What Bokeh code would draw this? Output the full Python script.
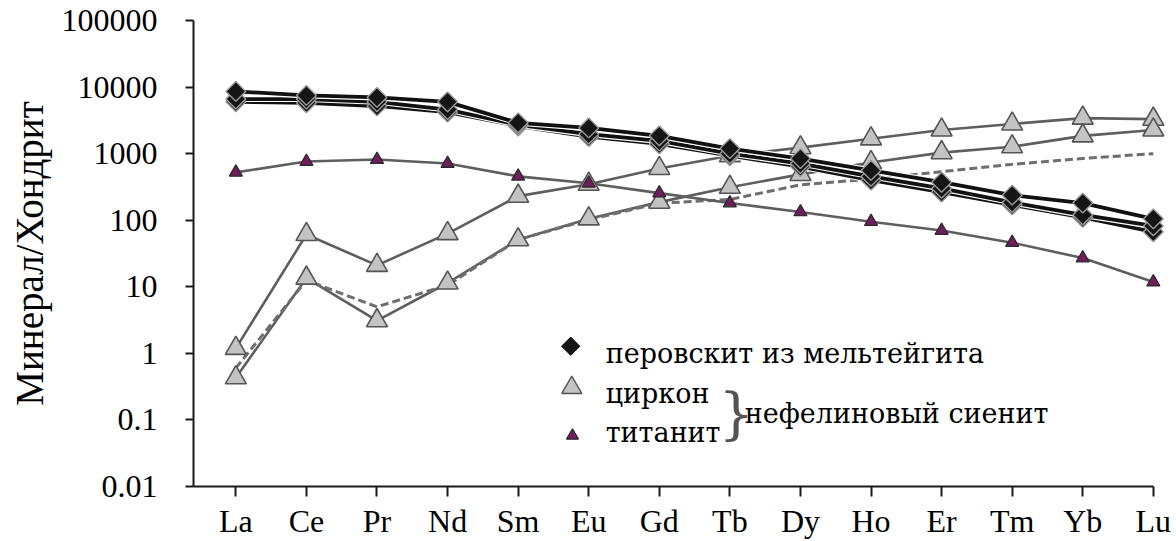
from bokeh.plotting import figure
from bokeh.models import Range1d, FixedTicker
from bokeh.core.properties import value
from bokeh.embed import file_html
from bokeh.resources import INLINE

# Rare-earth elements along the x axis
elements = ["La", "Ce", "Pr", "Nd", "Sm", "Eu", "Gd", "Tb", "Dy", "Ho", "Er", "Tm", "Yb", "Lu"]

# Chondrite-normalised REE contents
perovskite_1 = [8600, 7500, 7000, 6000, 2900, 2430, 1850, 1190, 843, 560, 372, 238, 181, 105]
perovskite_2 = [6600, 6600, 6000, 4600, 2700, 1960, 1550, 1000, 710, 455, 300, 185, 120, 82]
perovskite_3 = [6000, 5800, 5200, 4200, 2600, 1800, 1400, 930, 640, 400, 265, 170, 110, 67]

zircon_1 = [1.19, 61, 21, 63, 230, 347, 600, 930, 1230, 1670, 2270, 2790, 3420, 3300]
zircon_2 = [0.43, 13.5, 3.1, 11.4, 51, 105, 187, 313, 488, 735, 1035, 1270, 1850, 2270]
zircon_avg = [0.6, 12.5, 5.0, 10.6, 51, 102, 180, 205, 340, 415, 535, 690, 845, 1000]

titanite = [523, 761, 815, 711, 456, 359, 255, 181, 133, 95, 70, 46, 27, 11.8]

y_ticks = [0.01, 0.1, 1, 10, 100, 1000, 10000, 100000]
y_tick_labels = ["0.01", "0.1", "1", "10", "100", "1000", "10000", "100000"]

legend_perovskite = "перовскит из мельтейгита"
legend_zircon = "циркон"
legend_titanite = "титанит"
legend_group = "нефелиновый сиенит"

SERIF = "Liberation Serif"
TITLE_FONT = "'Liberation Serif', 'DejaVu Serif', serif"
LEGEND_FONT = "DejaVu Serif"
idx = list(range(len(elements)))

p = figure(
    width=1176, height=541,
    y_axis_type="log",
    x_range=Range1d(-0.6, 13.3),
    y_range=Range1d(0.01, 100000),
    output_backend="svg", toolbar_location=None,
    min_border_left=193, min_border_right=2,
    min_border_top=20, min_border_bottom=49,
)
p.grid.visible = False
p.outline_line_color = None
p.background_fill_color = "white"

# x axis: one tick per element
xa = p.xaxis[0]
xa.ticker = FixedTicker(ticks=idx, minor_ticks=[])
xa.major_label_overrides = {i: el for i, el in enumerate(elements)}
xa.bounds = (-0.6, 13)
xa.axis_line_width = 2
xa.axis_line_color = "#1a1a1a"
xa.major_tick_line_width = 2
xa.major_tick_line_color = "#1a1a1a"
xa.major_tick_out = 10
xa.major_tick_in = 0
xa.minor_tick_line_color = None
xa.major_label_standoff = 6
xa.major_label_text_font = SERIF
xa.major_label_text_font_size = "32px"
xa.major_label_text_color = "black"

# y axis: decades
ya = p.yaxis[0]
ya.ticker = FixedTicker(ticks=y_ticks, minor_ticks=[])
ya.major_label_overrides = {v: s for v, s in zip(y_ticks, y_tick_labels)}
ya.axis_line_width = 2
ya.axis_line_color = "#1a1a1a"
ya.major_tick_line_width = 2
ya.major_tick_line_color = "#1a1a1a"
ya.major_tick_out = 8
ya.major_tick_in = 0
ya.minor_tick_line_color = None
ya.major_label_standoff = 28
ya.major_label_text_font = SERIF
ya.major_label_text_font_size = "32px"
ya.major_label_text_color = "black"
ya.axis_label = "Минерал/Хондрит"
ya.axis_label_text_font = TITLE_FONT
ya.axis_label_text_font_size = "39px"
ya.axis_label_text_font_style = "normal"
ya.axis_label_text_color = "black"
ya.axis_label_standoff = 8

LINE_GREY = "#5e5e5e"

# zircon
for series in (zircon_1, zircon_2):
    p.line(idx, series, line_color=LINE_GREY, line_width=2.6)

# averaged zircon profile
p.line(idx, zircon_avg, line_color="#6e6e6e", line_width=3, line_dash="8 4")

# titanite
p.line(idx, titanite, line_color=LINE_GREY, line_width=2.6)

for series in (zircon_1, zircon_2):
    p.scatter(idx, series, marker="triangle", size=21, fill_color="#c3c3c3",
              line_color="#555555", line_width=1.6)

p.scatter(idx, titanite, marker="triangle", size=13, fill_color="#6f1d5c",
          line_color="#2a2a2a", line_width=1.3)

# perovskite from melteigite
for series in (perovskite_3, perovskite_2, perovskite_1):
    p.line(idx, series, line_color="white", line_width=6)
    p.line(idx, series, line_color="#111111", line_width=3.8)
for series in (perovskite_3, perovskite_2, perovskite_1):
    p.scatter(idx, series, marker="square", angle=0.7853981634, size=14,
              fill_color="#151515", line_color="#9a9a9a", line_width=1.4)

# legend
p.scatter([4.745], [1.28], marker="square", angle=0.7853981634, size=13,
          fill_color="#151515", line_color="#151515")
p.scatter([4.76], [0.305], marker="triangle", size=20, fill_color="#c3c3c3",
          line_color="#555555", line_width=1.4)
p.scatter([4.77], [0.058], marker="triangle", size=12, fill_color="#6f1d5c",
          line_color="#2a2a2a", line_width=1.2)

def add_text(x, y, txt, size, color="black"):
    p.text([x], [y], text=[txt], text_font=value(LEGEND_FONT), text_font_size=size,
           text_color=color, text_baseline="middle", text_align="left")

add_text(5.24, 1.0, legend_perovskite, "27px")
add_text(5.24, 0.25, legend_zircon, "27px")
add_text(5.24, 0.064, legend_titanite, "27px")
add_text(6.84, 0.125, "}", "56px", "#555555")
add_text(7.21, 0.125, legend_group, "27px")

open("out.html", "w").write(file_html(p, INLINE))
